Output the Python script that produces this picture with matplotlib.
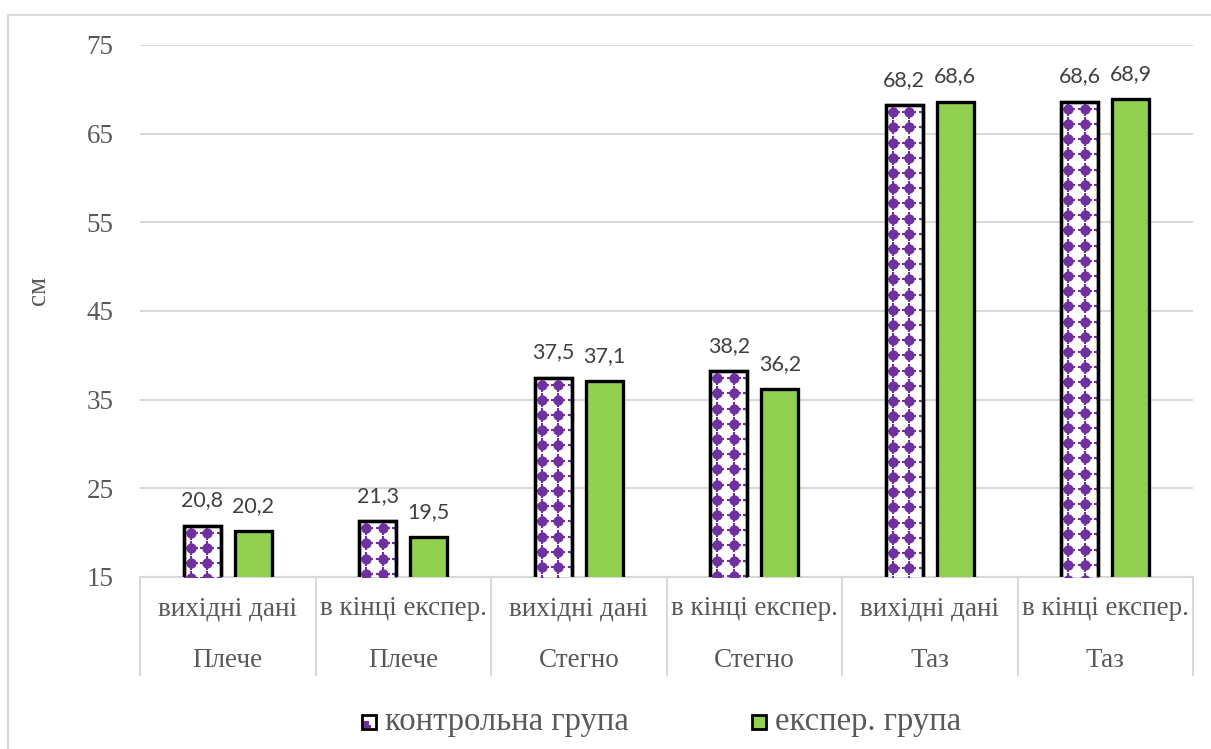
import numpy as np
import matplotlib
matplotlib.use("Agg")
import matplotlib.pyplot as plt
from matplotlib.patches import Rectangle
from matplotlib.transforms import blended_transform_factory

# Data
stages = ["вихідні дані", "в кінці експер.", "вихідні дані",
          "в кінці експер.", "вихідні дані", "в кінці експер."]
body_parts = ["Плече", "Плече", "Стегно", "Стегно", "Таз", "Таз"]
control_group = [20.8, 21.3, 37.5, 38.2, 68.2, 68.6]
exper_group = [20.2, 19.5, 37.1, 36.2, 68.6, 68.9]
series_names = ["контрольна група", "експер. група"]
y_ticks = [15, 25, 35, 45, 55, 65, 75]

PURPLE = "#7030A0"
GREEN = "#92D050"
GRID = "#D9D9D9"
TEXT = "#595959"
LABEL = "#404040"
SERIF = ["Liberation Serif", "DejaVu Serif"]
SANS = ["Lato", "DejaVu Sans"]

W, H = 1211, 749
fig = plt.figure(figsize=(W / 100, H / 100), dpi=100)
ax = fig.add_axes([140 / W, 1 - 577 / H, (1193 - 140) / W, (577 - 45) / H])

# outer chart frame
fig.add_artist(Rectangle((8 / W, -0.1), 1.2, 0.1 + 1 - 15 / H,
                         transform=fig.transFigure, fill=False,
                         edgecolor=GRID, lw=1.5))

x = np.arange(len(stages))
bw = 0.21
off = 0.145
ymin, ymax = y_ticks[0], y_ticks[-1]

ax.set_xlim(-0.5, len(stages) - 0.5)
ax.set_ylim(ymin, ymax)

ctrl_bars = ax.bar(x - off, control_group, bw, bottom=0, facecolor="white",
                   edgecolor="black", linewidth=2.4, zorder=3)
exp_bars = ax.bar(x + off, exper_group, bw, bottom=0, facecolor=GREEN,
                  edgecolor="black", linewidth=2.4, zorder=3)

# dotted fill inside the control-group bars
px_x = len(stages) / (1193 - 140)        # data units per pixel (x)
px_y = (ymax - ymin) / (577 - 45)        # data units per pixel (y)
step_x, step_y = 16.5 * px_x, 15.2 * px_y
for b in ctrl_bars:
    x0 = b.get_x()
    top = b.get_height()
    gx = x0 + 7 * px_x + np.arange(0, 4) * step_x
    gy = top - 7 * px_y - np.arange(0, 40) * step_y
    gx, gy = np.meshgrid(gx, gy)
    gx, gy = gx.ravel(), gy.ravel()
    keep = gy > ymin - 2
    clip = Rectangle((x0, ymin), b.get_width(), top - ymin,
                     transform=ax.transData)
    for mk, s, lw in (("o", 55, 0), ("+", 100, 1.5)):
        sc = ax.scatter(gx[keep], gy[keep], marker=mk, s=s, color=PURPLE,
                        linewidths=lw, zorder=3.5)
        sc.set_clip_path(clip)
    # redraw border above the dots
    ax.add_patch(Rectangle((b.get_x(), 0), b.get_width(), top, fill=False,
                           edgecolor="black", lw=2.4, zorder=4))

# value labels
for bars, vals in ((ctrl_bars, control_group), (exp_bars, exper_group)):
    for b, v in zip(bars, vals):
        ax.annotate(f"{v:.1f}".replace(".", ","),
                    (b.get_x() + b.get_width() / 2, v),
                    xytext=(0, 11), textcoords="offset points",
                    ha="center", va="bottom", fontsize=15.5,
                    family=SANS, color=LABEL, zorder=5)

# axes styling
for s in ("top", "right", "left"):
    ax.spines[s].set_visible(False)
ax.spines["bottom"].set_color(GRID)
ax.spines["bottom"].set_linewidth(1.5)
ax.spines["bottom"].set_zorder(2)
ax.set_yticks(y_ticks)
ax.set_yticklabels([str(t) for t in y_ticks], family=SERIF, fontsize=19.5,
                   color=TEXT)
ax.tick_params(axis="y", length=0, pad=19)
ax.set_xticks([])
ax.grid(axis="y", color=GRID, linewidth=1.5, zorder=0)
ax.set_axisbelow(True)

# two-level category axis
tr = blended_transform_factory(ax.transData, ax.transAxes)
for i, (st, bp) in enumerate(zip(stages, body_parts)):
    ax.annotate(st, (i, 0), xycoords=tr, xytext=(0, -23),
                textcoords="offset points", ha="center", va="center",
                family=SERIF, fontsize=19.5, color=TEXT)
    ax.annotate(bp, (i, 0), xycoords=tr, xytext=(0, -60),
                textcoords="offset points", ha="center", va="center",
                family=SERIF, fontsize=19.5, color=TEXT)
sep_depth = -(675 - 577) / (577 - 45)
for b in np.arange(len(stages) + 1) - 0.5:
    ax.plot([b, b], [0, sep_depth], transform=tr, color=GRID, lw=1.5,
            clip_on=False, zorder=1)

# y-axis title
fig.text(38 / W, 1 - 290 / H, "см", rotation=90, ha="center", va="center",
         family=SERIF, fontsize=19.5, color=TEXT)

# legend
ly = 1 - 722 / H
sq = 14
for (mx, tx), name, kind in zip(((362, 385), (752, 775)), series_names,
                                ("dots", "green")):
    if kind == "dots":
        fig.add_artist(Rectangle((mx / W, ly - sq / 2 / H), sq / W, sq / H,
                                 transform=fig.transFigure, facecolor="white",
                                 edgecolor="black", lw=2))
        fig.add_artist(Rectangle(((mx + 1.5) / W, ly - 5.5 / H), 5 / W, 7 / H,
                                 transform=fig.transFigure, facecolor=PURPLE,
                                 edgecolor="none"))
        fig.add_artist(Rectangle(((mx + 6) / W, ly - 5.5 / H), 3 / W, 3 / H,
                                 transform=fig.transFigure, facecolor=PURPLE,
                                 edgecolor="none"))
    else:
        fig.add_artist(Rectangle((mx / W, ly - sq / 2 / H), sq / W, sq / H,
                                 transform=fig.transFigure, facecolor=GREEN,
                                 edgecolor="black", lw=2))
    fig.text(tx / W, ly, name, ha="left", va="center", family=SERIF,
             fontsize=23.5, color=TEXT)

fig.savefig("out.png", dpi=100)
